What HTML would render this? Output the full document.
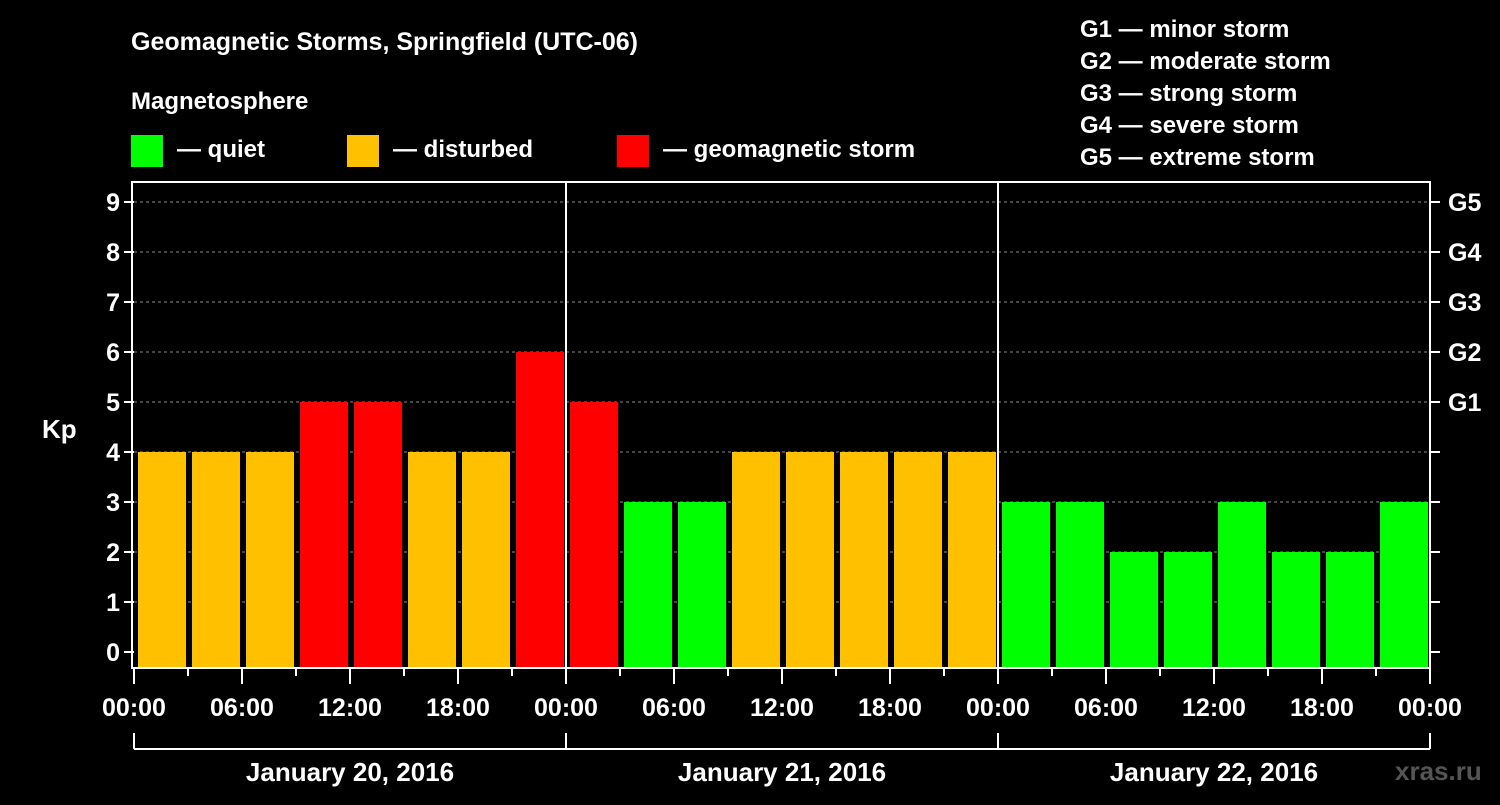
<!DOCTYPE html>
<html><head><meta charset="utf-8"><style>
body{margin:0;background:#000;width:1500px;height:800px;overflow:hidden}
svg{font-family:"Liberation Sans",sans-serif;font-weight:bold}
</style></head><body>
<svg id="c" width="1500" height="800">
<rect width="1500" height="800" fill="#000"/>
<text x="131" y="50" fill="#fff" font-size="25">Geomagnetic Storms, Springfield (UTC-06)</text>
<text x="131" y="109" fill="#fff" font-size="24">Magnetosphere</text>
<g><rect x="131" y="135" width="32" height="32" fill="#00ff00"/><text x="177" y="157" fill="#fff" font-size="24">— quiet</text></g>
<g><rect x="347" y="135" width="32" height="32" fill="#ffc000"/><text x="393" y="157" fill="#fff" font-size="24">— disturbed</text></g>
<g><rect x="617" y="135" width="32" height="32" fill="#ff0000"/><text x="663" y="157" fill="#fff" font-size="24">— geomagnetic storm</text></g>
<g fill="#fff" font-size="24">
<text x="1080" y="37">G1 — minor storm</text><text x="1080" y="69">G2 — moderate storm</text><text x="1080" y="101">G3 — strong storm</text><text x="1080" y="133">G4 — severe storm</text><text x="1080" y="165">G5 — extreme storm</text></g>
<text x="42" y="438" fill="#fff" font-size="26">Kp</text>
<text x="1395" y="780" fill="#555" font-size="26">xras.ru</text>
<g id="g"></g>
</svg>
<script>
const kpValues=[4,4,4,5,5,4,4,6,5,3,3,4,4,4,4,4,3,3,2,2,3,2,2,3];
const yTicks=[0,1,2,3,4,5,6,7,8,9];
const gLabels=["G1","G2","G3","G4","G5"];
const xTickLabels=["00:00","06:00","12:00","18:00","00:00","06:00","12:00","18:00","00:00","06:00","12:00","18:00","00:00"];
const dayLabels=["January 20, 2016","January 21, 2016","January 22, 2016"];
const X0=134,X1=1430,YB=668;
const x=i=>X0+i*(X1-X0)/kpValues.length;
const y=v=>652-v*50;
const ns="http://www.w3.org/2000/svg",g=document.getElementById('g');
function mk(t,a,txt){const e=document.createElementNS(ns,t);for(const k in a)e.setAttribute(k,a[k]);if(txt!==undefined)e.textContent=txt;g.appendChild(e);return e;}
yTicks.forEach(v=>{
 if(v>0){const l=mk('line',{x1:X0,x2:X1,y1:y(v),y2:y(v),stroke:'#888','stroke-dasharray':'3,3','stroke-width':1});
 
 }
 const t=mk('line',{x1:X0-10,x2:X0,y1:y(v),y2:y(v),stroke:'#fff','stroke-width':2});
 
 
 const t2=mk('line',{x1:X1,x2:X1+10,y1:y(v),y2:y(v),stroke:'#fff','stroke-width':2});
 
 
 const tx=mk('text',{x:X0-14,y:y(v)+9,fill:'#fff','font-size':25,'text-anchor':'end'},v);
 
 
});
gLabels.forEach((s,i)=>{
 const tx=mk('text',{x:X1+18,y:y(5+i)+9,fill:'#fff','font-size':25},s);
 
 
});
kpValues.forEach((v,i)=>{
 const c=v>=5?'#ff0000':v>=4?'#ffc000':'#00ff00';
 const r=mk('rect',{x:x(i)+4,y:y(v),width:48,height:YB-1-y(v),fill:c});
 
 
});
[8,16].forEach(i=>{const l=mk('line',{x1:x(i),x2:x(i),y1:182,y2:YB,stroke:'#fff','stroke-width':2});
 
 });
const f=mk('rect',{x:X0-2,y:182,width:X1-X0+2,height:YB-182,fill:'none',stroke:'#fff','stroke-width':2});


for(let i=0;i<=kpValues.length;i++){
 const l=mk('line',{x1:x(i),x2:x(i),y1:YB,y2:YB+(i%2?8:16),stroke:'#fff','stroke-width':2});
 
 
}
xTickLabels.forEach((s,i)=>{
 const tx=mk('text',{x:x(i*2),y:716,fill:'#fff','font-size':25,'text-anchor':'middle'},s);
 
 
});
const b=mk('line',{x1:X0,x2:X1,y1:749,y2:749,stroke:'#fff','stroke-width':2});


for(let d=0;d<=dayLabels.length;d++){
 const l=mk('line',{x1:x(d*8),x2:x(d*8),y1:733,y2:749,stroke:'#fff','stroke-width':2});
 
 
}
dayLabels.forEach((s,d)=>{
 const tx=mk('text',{x:(x(d*8)+x(d*8+8))/2,y:781,fill:'#fff','font-size':26,'text-anchor':'middle'},s);
 
 
});
</script>
</body></html>
